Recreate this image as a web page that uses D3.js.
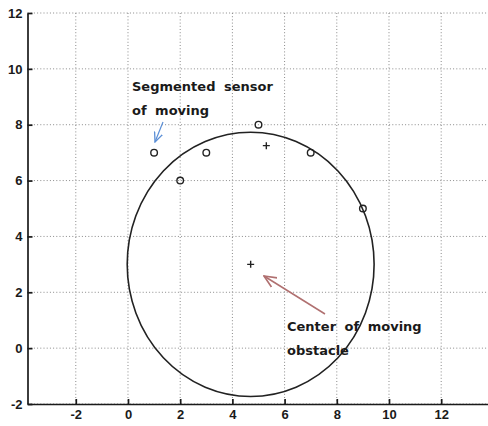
<!DOCTYPE html>
<html lang="en">
<head>
    <meta charset="UTF-8">
    <title>Moving obstacle estimate</title>
    <script src="https://d3js.org/d3.v7.min.js"></script>
    <style>
        body { margin: 0; background: #fff; }
        .axis path, .axis line { stroke: #1a1a1a; stroke-width: 1.7; }
        .axis text { font-family: "Liberation Sans", Arial, sans-serif; font-weight: bold; font-size: 13px; fill: #1a1a1a; }
        .grid line { stroke: #8a8a8a; stroke-width: 1; stroke-dasharray: 1,2.2; }
        .note { font-family: "DejaVu Sans", sans-serif; font-weight: bold; font-size: 13px; fill: #1a1a1a;
                word-spacing: 4px; }
    </style>
</head>
<body>
<div id="chart"></div>

<script>
    // data
    const sensorX = [1, 2, 3, 5, 7, 9];
    const sensorY = [7, 6, 7, 8, 7, 5];
    const plusX = [4.7, 5.3];
    const plusY = [3, 7.25];
    const circleCenter = [4.7, 3];
    const circleRadius = 4.73;
    const xTicks = [-2, 0, 2, 4, 6, 8, 10, 12];
    const yTicks = [-2, 0, 2, 4, 6, 8, 10, 12];

    const width = 488, height = 426;

    const svg = d3.select("#chart")
        .append("svg")
        .attr("width", width)
        .attr("height", height);

    const x = d3.scaleLinear().domain([-3.85, 14]).range([27.5, 493.4]);
    const y = d3.scaleLinear().domain([-2, 12]).range([404, 13]);

    // dotted grid
    const grid = svg.append("g").attr("class", "grid");
    grid.selectAll(".gx")
        .data(xTicks)
        .enter().append("line")
        .attr("x1", d => x(d)).attr("x2", d => x(d))
        .attr("y1", y(12)).attr("y2", y(-2));
    grid.selectAll(".gy")
        .data(yTicks)
        .enter().append("line")
        .attr("x1", x(-3.85)).attr("x2", width)
        .attr("y1", d => y(d)).attr("y2", d => y(d));

    // axes, ticks pointing inward, plain hyphen for minus
    const fmt = d => String(d);
    svg.append("g")
        .attr("class", "axis")
        .attr("transform", `translate(0,${y(-2)})`)
        .call(d3.axisBottom(x).tickValues(xTicks).tickFormat(fmt).tickSize(-5).tickPadding(6).tickSizeOuter(0));

    svg.append("g")
        .attr("class", "axis")
        .attr("transform", `translate(${x(-3.85)},0)`)
        .call(d3.axisLeft(y).tickValues(yTicks).tickFormat(fmt).tickSize(-5).tickPadding(5).tickSizeOuter(0));

    // fitted circle
    svg.append("ellipse")
        .attr("cx", x(circleCenter[0]))
        .attr("cy", y(circleCenter[1]))
        .attr("rx", x(circleCenter[0] + circleRadius) - x(circleCenter[0]))
        .attr("ry", y(circleCenter[1]) - y(circleCenter[1] + circleRadius))
        .attr("fill", "none")
        .attr("stroke", "#222")
        .attr("stroke-width", 1.6);

    // sensor points
    svg.selectAll(".pt")
        .data(sensorX)
        .enter().append("circle")
        .attr("cx", d => x(d))
        .attr("cy", (d, i) => y(sensorY[i]))
        .attr("r", 3.3)
        .attr("fill", "none")
        .attr("stroke", "#222")
        .attr("stroke-width", 1.4);

    // plus markers
    svg.selectAll(".plus")
        .data(plusX)
        .enter().append("path")
        .attr("d", "M-3.5,0H3.5M0,-3.5V3.5")
        .attr("transform", (d, i) => `translate(${x(d)},${y(plusY[i])})`)
        .attr("stroke", "#222")
        .attr("stroke-width", 1.4);

    // annotations
    const defs = svg.append("defs");
    function marker(id, color) {
        defs.append("marker")
            .attr("id", id)
            .attr("viewBox", "0 0 10 10")
            .attr("refX", 9).attr("refY", 5)
            .attr("markerWidth", 9).attr("markerHeight", 9)
            .attr("orient", "auto")
            .append("path")
            .attr("d", "M0,1L9,5L0,9")
            .attr("fill", "none")
            .attr("stroke", color)
            .attr("stroke-width", 1.2);
    }
    marker("blue", "#5b8fd6");
    marker("red", "#b07070");

    svg.append("text").attr("class", "note").attr("x", 132).attr("y", 91).text("Segmented sensor");
    svg.append("text").attr("class", "note").attr("x", 132).attr("y", 115).text("of moving");
    svg.append("line")
        .attr("x1", 163).attr("y1", 122).attr("x2", 155).attr("y2", 142)
        .attr("stroke", "#5b8fd6").attr("stroke-width", 1.2)
        .attr("marker-end", "url(#blue)");

    svg.append("text").attr("class", "note").attr("x", 287).attr("y", 331).text("Center of moving");
    svg.append("text").attr("class", "note").attr("x", 287).attr("y", 355).text("obstacle");
    svg.append("line")
        .attr("x1", 325).attr("y1", 314).attr("x2", 264).attr("y2", 276)
        .attr("stroke", "#b07070").attr("stroke-width", 1.5)
        .attr("marker-end", "url(#red)");
</script>
</body>
</html>
